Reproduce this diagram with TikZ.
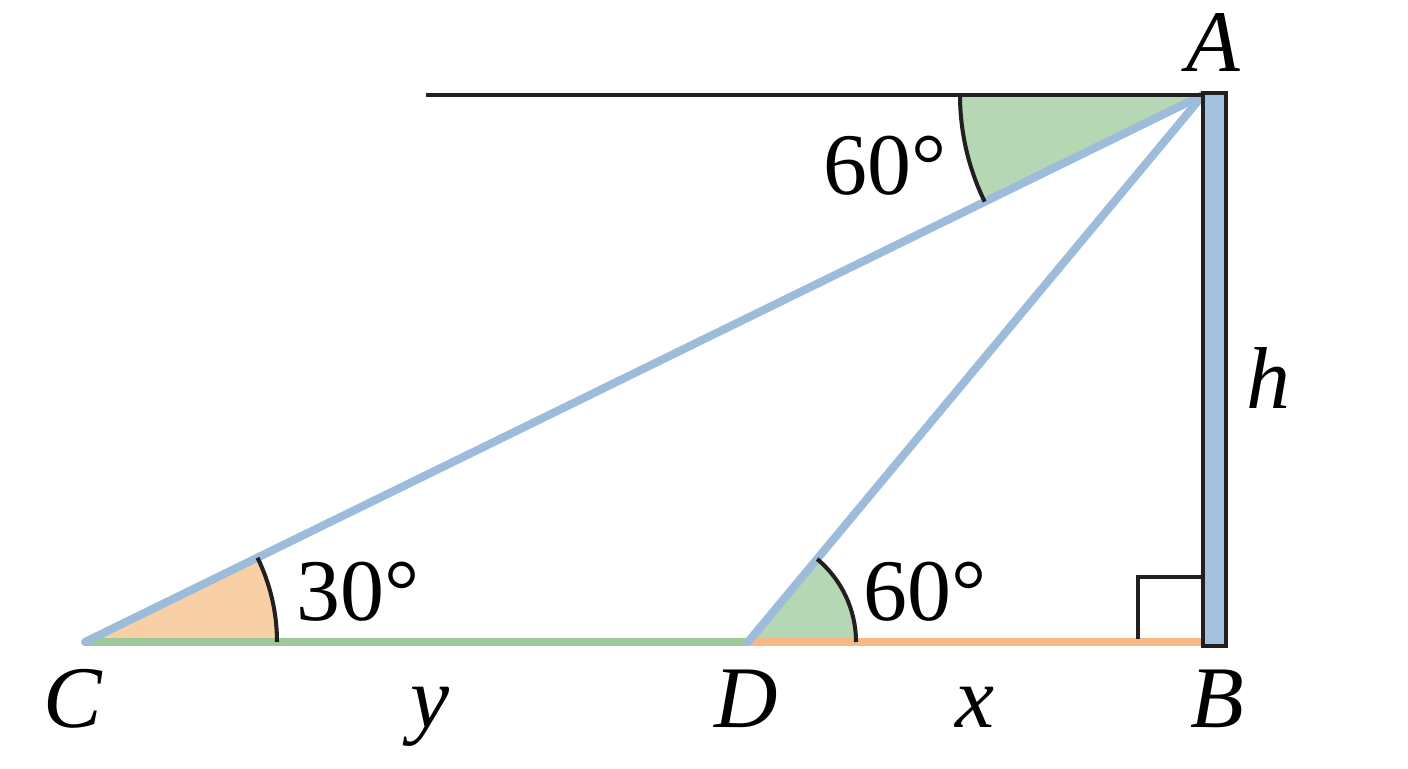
\documentclass[tikz,border=0pt]{standalone}
\usepackage{fontspec}
\setmainfont{Liberation Serif}
\begin{document}
\begin{tikzpicture}[x=0.02cm,y=0.02cm,
  lbl/.style={inner sep=0pt,anchor=base,font=\fontsize{50}{60}\selectfont\itshape},
  deg/.style={inner sep=0pt,anchor=base west,font=\fontsize{50}{60}\selectfont},
  sight/.style={line width=4.6pt,color=sightblue},
  blk/.style={line width=2.3pt,color=inkblack},
  arcline/.style={line width=2.3pt,color=inkblack}]
\definecolor{sightblue}{HTML}{9DBCDB}
\definecolor{polefill}{HTML}{A4C2E0}
\definecolor{greenfill}{HTML}{B6D7B4}
\definecolor{greenline}{HTML}{9DC89A}
\definecolor{orangefill}{HTML}{F9D0A6}
\definecolor{orangeline}{HTML}{F6B886}
\definecolor{inkblack}{HTML}{231F20}
\useasboundingbox (0,0) rectangle (1408,768);
\coordinate (A) at (1203,673);
\coordinate (B) at (1203,126);
\coordinate (C) at (85,126);
\coordinate (D) at (748,126);
\coordinate (L) at (426,673);
% angle sectors
\fill[greenfill] (A) -- ++(180:243) arc[start angle=180,end angle=206.03,radius=243] -- cycle;
\fill[orangefill] (C) -- ++(0:192) arc[start angle=0,end angle=26.03,radius=192] -- cycle;
\fill[greenfill] (D) -- ++(0:108) arc[start angle=0,end angle=50.2,radius=108] -- cycle;
% ground
\draw[line width=4.6pt,greenline] (C) -- (D);
\draw[line width=4.6pt,orangeline] (D) -- (B);
% sight lines
\draw[sight,line cap=round] (C) -- (A);
\draw[sight,line cap=round] (D) -- (A);
% arcs
\draw[arcline] (A) ++(180:243) arc[start angle=180,end angle=206.03,radius=243];
\draw[arcline] (C) ++(0:192) arc[start angle=0,end angle=26.03,radius=192];
\draw[arcline] (D) ++(0:108) arc[start angle=0,end angle=50.2,radius=108];
% horizontal line and right angle
\draw[blk] (L) -- (A);
\coordinate (R1) at (1138,129);
\coordinate (R2) at (1138,191);
\coordinate (R3) at (1203,191);
\draw[blk] (R1) -- (R2) -- (R3);
% pole
\draw[blk,fill=polefill] (1203,122) rectangle (1226,675);
% labels
\node[lbl] (lA) at (1213,696) {A};
\node[lbl] (lh) at (1268,360) {h};
\node[lbl] (lC) at (73,41) {C};
\node[lbl] (ly) at (430,41) {y};
\node[lbl] (lD) at (746,41) {D};
\node[lbl] (lx) at (975,41) {x};
\node[lbl] (lB) at (1217,41) {B};
\node[deg] (a30) at (296,148) {30°};
\node[deg] (a60b) at (863,148) {60°};
\node[deg] (a60t) at (823,573) {60°};
\end{tikzpicture}
\end{document}
